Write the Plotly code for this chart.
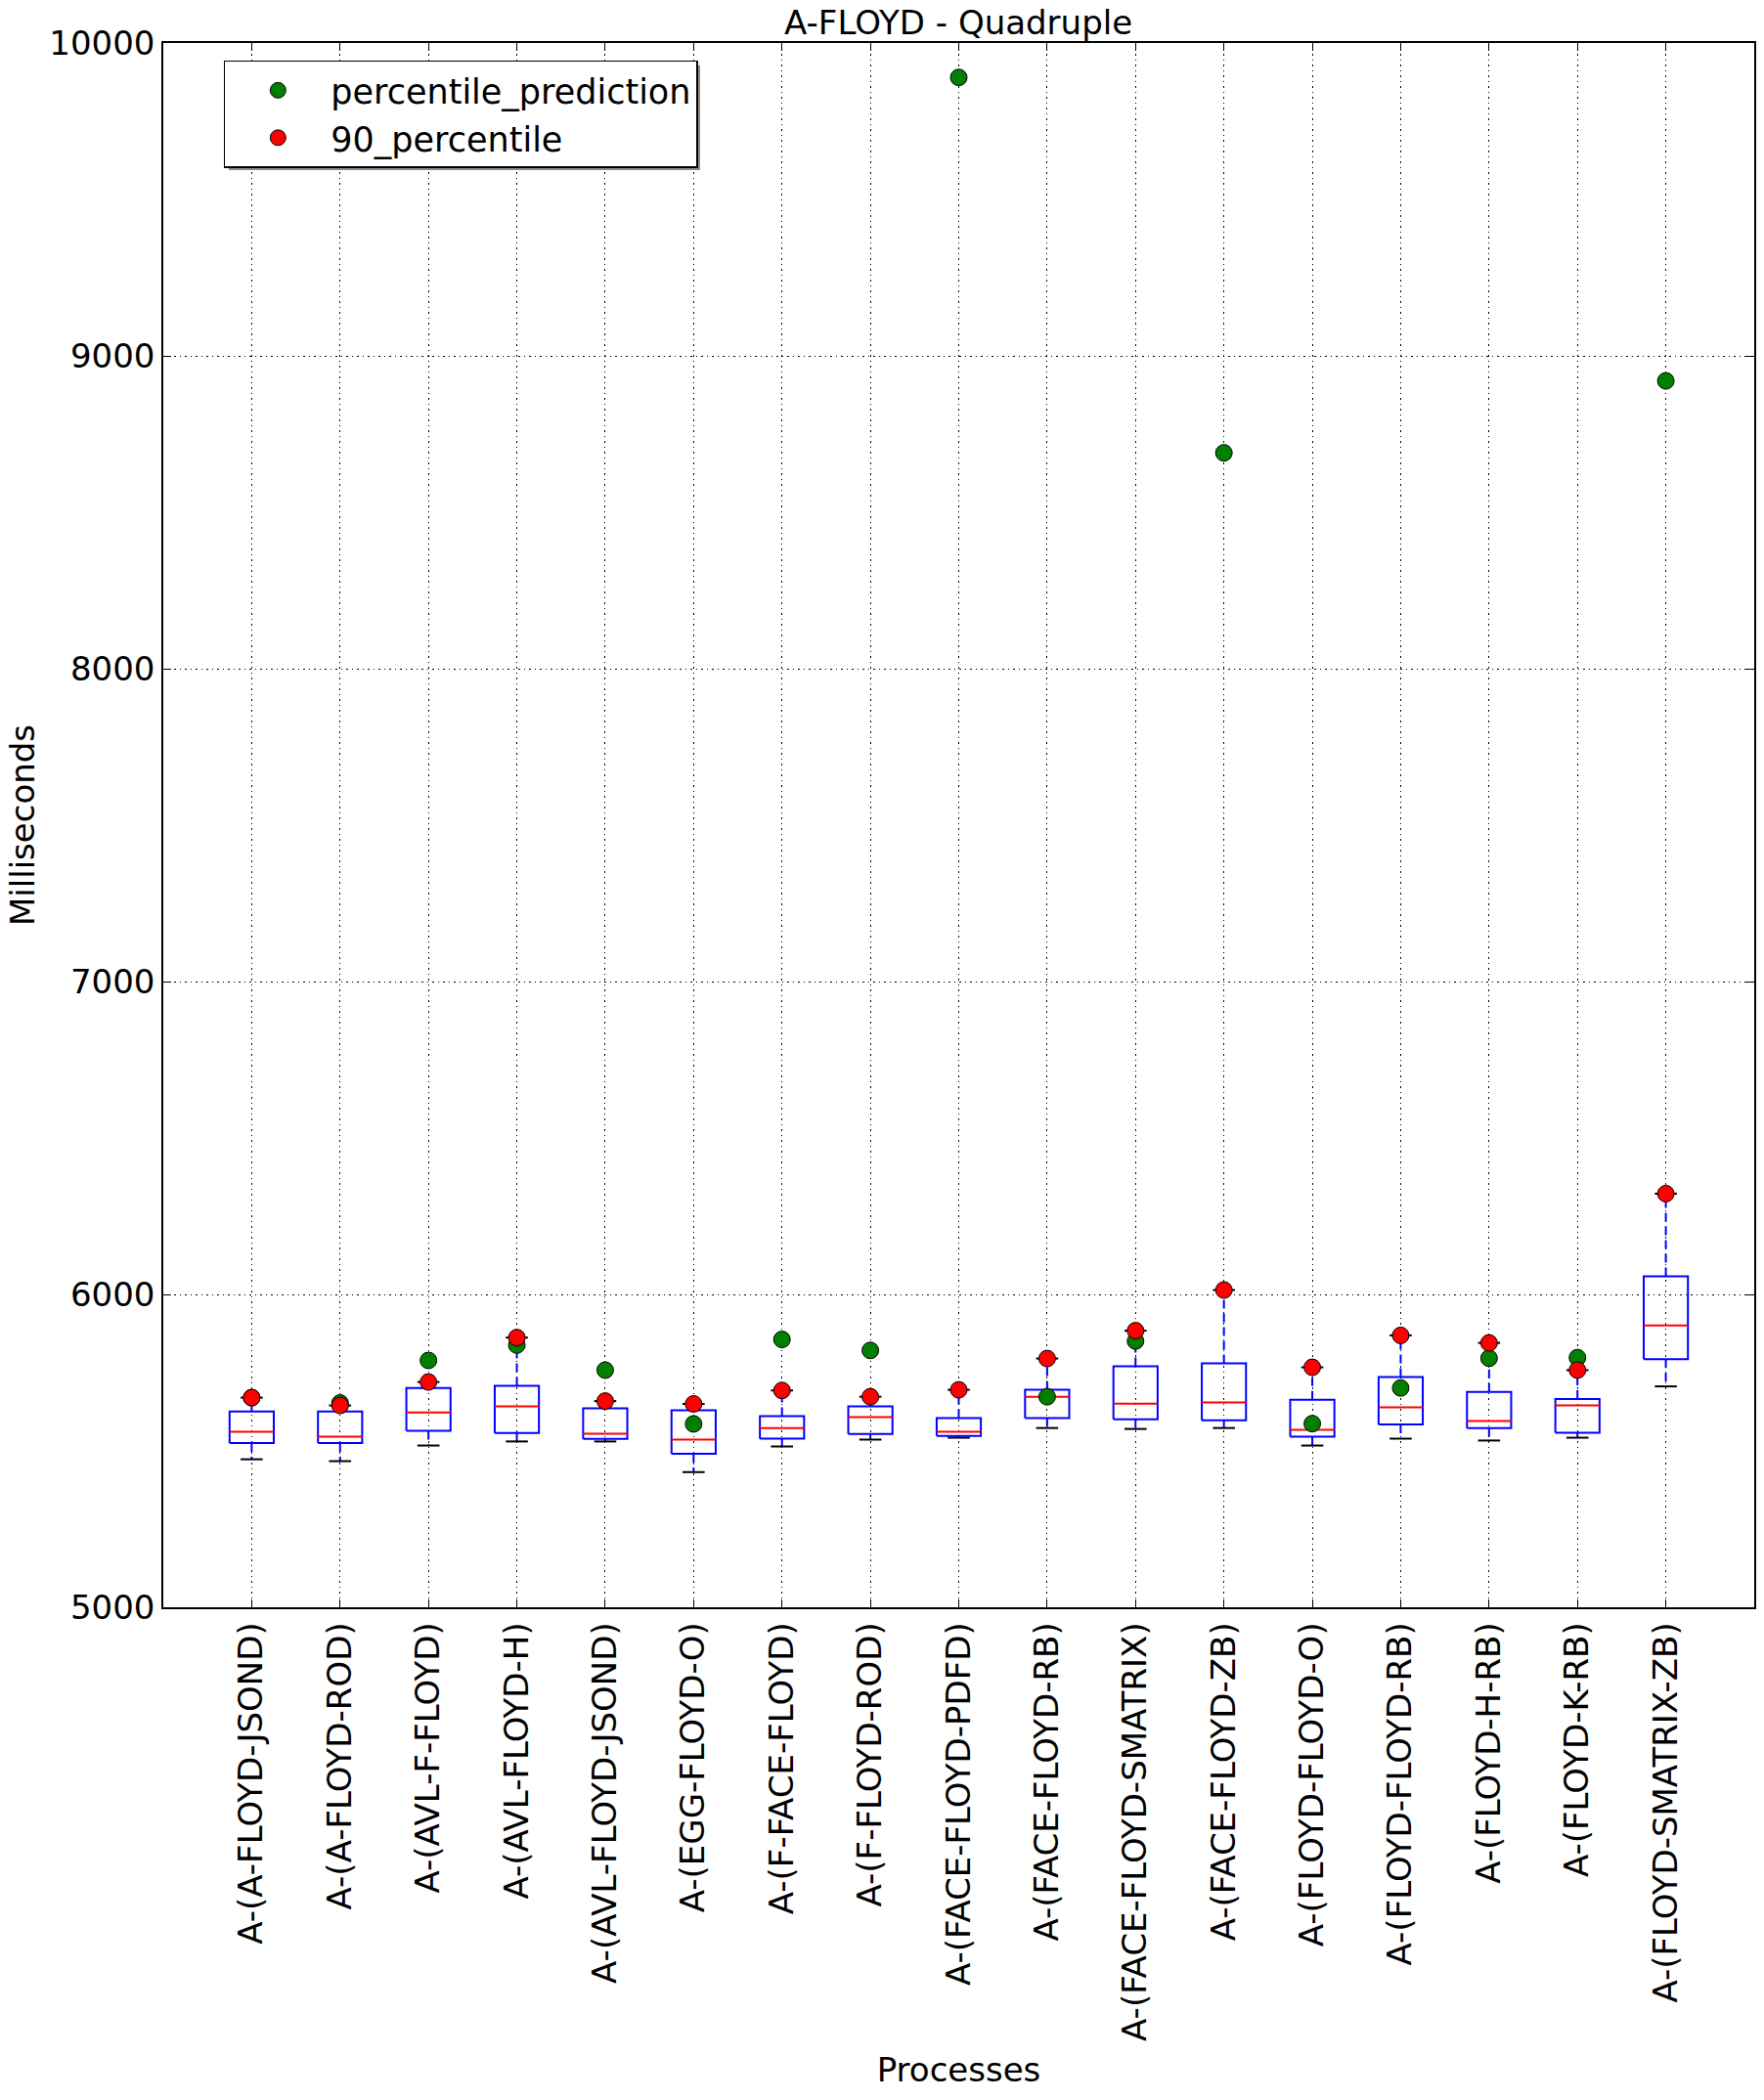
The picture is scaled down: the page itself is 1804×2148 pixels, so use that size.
import plotly.graph_objects as go

categories = ["A-(A-FLOYD-JSOND)", "A-(A-FLOYD-ROD)", "A-(AVL-F-FLOYD)", "A-(AVL-FLOYD-H)",
              "A-(AVL-FLOYD-JSOND)", "A-(EGG-FLOYD-O)", "A-(F-FACE-FLOYD)", "A-(F-FLOYD-ROD)",
              "A-(FACE-FLOYD-PDFD)", "A-(FACE-FLOYD-RB)", "A-(FACE-FLOYD-SMATRIX)", "A-(FACE-FLOYD-ZB)",
              "A-(FLOYD-FLOYD-O)", "A-(FLOYD-FLOYD-RB)", "A-(FLOYD-H-RB)", "A-(FLOYD-K-RB)",
              "A-(FLOYD-SMATRIX-ZB)"]
positions = list(range(1, len(categories) + 1))

whisker_low = [5473, 5467, 5517, 5530, 5530, 5432, 5514, 5536, 5542, 5573, 5570, 5573, 5517, 5539, 5533, 5542, 5706]
q1 = [5525, 5525, 5564, 5557, 5538, 5491, 5539, 5554, 5548, 5605, 5601, 5598, 5545, 5584, 5573, 5558, 5793]
median = [5561, 5545, 5623, 5642, 5555, 5536, 5573, 5608, 5561, 5673, 5651, 5655, 5567, 5639, 5595, 5645, 5901]
q3 = [5626, 5626, 5701, 5708, 5636, 5630, 5611, 5642, 5605, 5695, 5770, 5780, 5663, 5736, 5688, 5666, 6058]
whisker_high = [5670, 5645, 5720, 5862, 5659, 5650, 5693, 5673, 5695, 5795, 5884, 6014, 5767, 5869, 5845, 5758, 6322]
percentile_90 = [5670, 5645, 5720, 5862, 5659, 5650, 5693, 5673, 5695, 5795, 5884, 6014, 5767, 5869, 5845, 5758, 6322]
percentile_prediction = [5670, 5653, 5789, 5838, 5758, 5586, 5856, 5821, 9890, 5673, 5851, 8690, 5587, 5701, 5796, 5798, 8920]

y_ticks = [5000, 6000, 7000, 8000, 9000, 10000]

HALF_BOX = 0.25
HALF_CAP = 0.125
FONT = "DejaVu Sans"

box_x, box_y = [], []
med_x, med_y = [], []
wh_x, wh_y = [], []
cap_x, cap_y = [], []
for p, lo, a, m, b, hi in zip(positions, whisker_low, q1, median, q3, whisker_high):
    box_x += [p - HALF_BOX, p + HALF_BOX, p + HALF_BOX, p - HALF_BOX, p - HALF_BOX, None]
    box_y += [a, a, b, b, a, None]
    med_x += [p - HALF_BOX, p + HALF_BOX, None]
    med_y += [m, m, None]
    wh_x += [p, p, None, p, p, None]
    wh_y += [b, hi, None, a, lo, None]
    cap_x += [p - HALF_CAP, p + HALF_CAP, None, p - HALF_CAP, p + HALF_CAP, None]
    cap_y += [hi, hi, None, lo, lo, None]

fig = go.Figure()
fig.add_trace(go.Scatter(x=wh_x, y=wh_y, mode="lines", showlegend=False, hoverinfo="skip",
                         line=dict(color="blue", width=2, dash="9px,5px")))
fig.add_trace(go.Scatter(x=cap_x, y=cap_y, mode="lines", showlegend=False, hoverinfo="skip",
                         line=dict(color="black", width=2)))
fig.add_trace(go.Scatter(x=box_x, y=box_y, mode="lines", showlegend=False, hoverinfo="skip",
                         line=dict(color="blue", width=2)))
fig.add_trace(go.Scatter(x=med_x, y=med_y, mode="lines", showlegend=False, hoverinfo="skip",
                         line=dict(color="red", width=2)))
fig.add_trace(go.Scatter(x=positions, y=percentile_prediction, mode="markers", name="percentile_prediction",
                         marker=dict(color="#007f00", size=17, line=dict(color="black", width=1))))
fig.add_trace(go.Scatter(x=positions, y=percentile_90, mode="markers", name="90_percentile",
                         marker=dict(color="#ff0000", size=17, line=dict(color="black", width=1))))

axis_common = dict(
    showline=True, linecolor="black", linewidth=1.5, mirror="ticks",
    ticks="inside", ticklen=8, tickcolor="black", tickwidth=1,
    showgrid=True, gridcolor="black", gridwidth=1, griddash="1.5px,4px",
    zeroline=False, tickfont=dict(family=FONT, size=34, color="black"),
)

# legend drop shadow (paper coordinates of plot area: x 167..1794 px, y 44..1644 px)
PW, PH = 1627.0, 1600.0
shadow = dict(type="rect", xref="paper", yref="paper", layer="above",
              x0=(234 - 167) / PW, x1=(716 - 167) / PW,
              y0=1 - (174 - 44) / PH, y1=1 - (67 - 44) / PH,
              fillcolor="#8c8c8c", line=dict(width=0))

fig.update_layout(
    width=1804, height=2148,
    paper_bgcolor="white", plot_bgcolor="white",
    margin=dict(l=167, r=10, t=44, b=504),
    font=dict(family=FONT, size=34, color="black"),
    title=dict(text="A-FLOYD - Quadruple", x=0.5433, xanchor="center", y=1 - 23 / 2148, yref="container",
               yanchor="middle", font=dict(family=FONT, size=34, color="black")),
    xaxis=dict(range=[0, 18], tickmode="array", tickvals=positions, ticktext=categories, tickangle=-90,
               title=dict(text="Processes", standoff=18, font=dict(family=FONT, size=34)),
               automargin=False, **axis_common),
    yaxis=dict(range=[5000, 10000], tickmode="array", tickvals=y_ticks, ticktext=[str(v) for v in y_ticks],
               title=dict(text="Milliseconds", standoff=4, font=dict(family=FONT, size=34)),
               automargin=False, **axis_common),
    legend=dict(x=0.038, y=0.989, xanchor="left", yanchor="top", bgcolor="white",
                bordercolor="black", borderwidth=1.5, font=dict(family=FONT, size=35, color="black"),
                itemwidth=98),
    shapes=[shadow],
    showlegend=True,
)

fig.write_html("out.html")
